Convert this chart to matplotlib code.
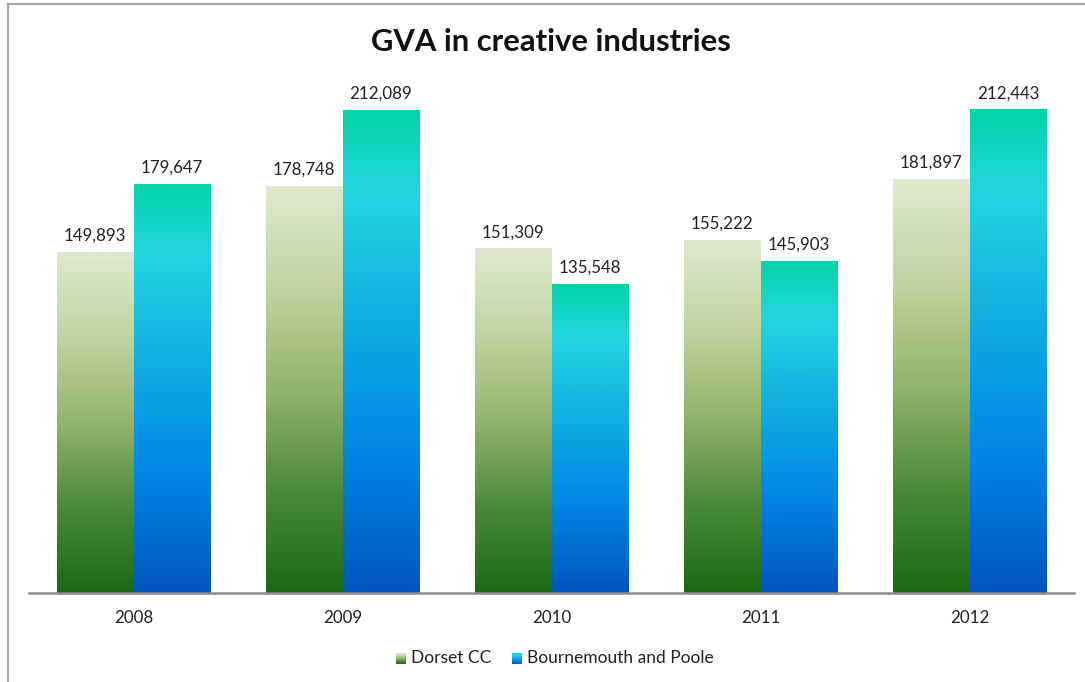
import matplotlib.pyplot as plt
import numpy as np
from matplotlib.colors import LinearSegmentedColormap
from matplotlib.lines import Line2D

years = ["2008", "2009", "2010", "2011", "2012"]
dorset = [149893, 178748, 151309, 155222, 181897]
bournemouth = [179647, 212089, 135548, 145903, 212443]
series_names = ["Dorset CC", "Bournemouth and Poole"]

plt.rcParams['font.family'] = ['Lato', 'DejaVu Sans']

# vertical gradients, bottom -> top
green = LinearSegmentedColormap.from_list("green", [
    (0.0, "#1a6a14"), (0.25, "#4a8a38"), (0.5, "#93b46c"),
    (0.75, "#c0d4a0"), (1.0, "#dfe9cf")])
blue = LinearSegmentedColormap.from_list("blue", [
    (0.0, "#0056bf"), (0.3, "#0088e6"), (0.6, "#14b2e0"),
    (0.83, "#22d6e0"), (1.0, "#04d4a8")])

fig = plt.figure(figsize=(10.85, 6.82), dpi=100)
ax = fig.add_axes([29 / 1085, 89 / 682, 1045 / 1085, 568.5 / 682])

x = np.arange(len(years))
w = 0.368
grad = np.linspace(0, 1, 256).reshape(-1, 1)

for vals, cmap, off in [(dorset, green, -w / 2), (bournemouth, blue, w / 2)]:
    bars = ax.bar(x + off, vals, w, color="none", edgecolor="none")
    for b, v in zip(bars, vals):
        x0 = b.get_x()
        ax.imshow(grad, cmap=cmap, origin="lower", aspect="auto",
                  extent=[x0, x0 + w, 0, v], zorder=2)
        ax.text(x0 + w / 2, v + 3800, f"{v:,}", ha="center", va="bottom",
                fontsize=12.2, color="#222222")

ax.set_xlim(-0.5, len(years) - 0.5)
ax.set_ylim(0, 250000)
ax.set_xticks(x)
ax.set_xticklabels(years, fontsize=12.2, color="#222222")
ax.tick_params(axis="x", length=0, pad=12)
ax.set_yticks([])
for s in ["top", "right", "left"]:
    ax.spines[s].set_visible(False)
ax.spines["bottom"].set_color("#8c8c8c")
ax.spines["bottom"].set_linewidth(1.8)
ax.spines["bottom"].set_zorder(3)

fig.text(551 / 1085, 1 - 42 / 682, "GVA in creative industries", ha="center",
         va="center", fontsize=22.3, fontweight="bold", color="#111111")

# legend with small gradient swatches
for sx, cmap, tx, label in [(396, green, 411, series_names[0]),
                            (512, blue, 527, series_names[1])]:
    sw = fig.add_axes([sx / 1085, 1 - 664 / 682, 10 / 1085, 11 / 682])
    sw.imshow(grad, cmap=cmap, origin="lower", aspect="auto")
    sw.axis("off")
    fig.text(tx / 1085, 1 - 658 / 682, label, ha="left", va="center",
             fontsize=12.5, color="#222222")

# outer chart frame
fig.add_artist(Line2D([8 / 1085, 1], [1 - 4 / 682, 1 - 4 / 682],
                      color="#a6a6a6", lw=1.5, transform=fig.transFigure))
fig.add_artist(Line2D([8 / 1085, 8 / 1085], [0, 1 - 4 / 682],
                      color="#a6a6a6", lw=1.5, transform=fig.transFigure))

fig.savefig("out.png", dpi=100)
